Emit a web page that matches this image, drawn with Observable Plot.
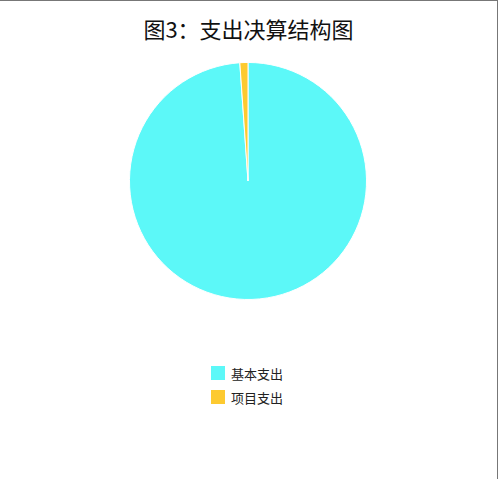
<!DOCTYPE html>
<html>
<head>
<meta charset="utf-8">
<script src="https://cdn.jsdelivr.net/npm/d3@7"></script>
<script src="https://cdn.jsdelivr.net/npm/@observablehq/plot@0.6"></script>
<style>
  html, body { margin: 0; padding: 0; background: #fff; }
  #wrap { position: relative; width: 497px; height: 479px; border-top: 1px solid #777; border-right: 1px solid #777; box-sizing: content-box; font-family: "Noto Sans CJK SC", "Noto Sans", sans-serif; }
  #title { position: absolute; left: 0; top: 0; width: 497px; height: 58px; line-height: 55px; text-align: center; font-size: 22px; color: #111; }
  #chart { position: absolute; left: 0; top: 49px; }
  #legend { position: absolute; left: 211px; top: 360px; font-size: 13px; color: #222; }
  .item { display: flex; align-items: center; height: 24px; }
  .sw { width: 14px; height: 14px; margin-right: 6px; }
</style>
</head>
<body>
<div id="wrap">
  <div id="title"></div>
  <div id="chart"></div>
  <div id="legend"></div>
</div>
<script>
const titleText = "图3：支出决算结构图";
const categories = ["基本支出", "项目支出"];
const values = [98.9, 1.1];
const colors = ["#5cf8f8", "#fdca30"];

const data = categories.map((c, i) => ({category: c, value: values[i]}));

document.getElementById("title").textContent = titleText;

const pieMark = (index, scales, vals, dimensions, context) => {
  const cx = scales.x(0), cy = scales.y(0);
  const r = scales.x(1) - scales.x(0);
  const pie = d3.pie().sort(null).value(d => d.value)(data);
  const arc = d3.arc().innerRadius(0).outerRadius(r);
  const g = d3.create("svg:g").attr("transform", `translate(${cx},${cy})`);
  g.selectAll("path").data(pie).join("path")
    .attr("d", arc)
    .attr("fill", d => scales.color(d.data.category))
    .attr("stroke", "#fff")
    .attr("stroke-width", 1)
    .attr("stroke-linejoin", "round");
  return g.node();
};

const svgHeight = 280;
const plot = Plot.plot({
  width: 499,
  height: svgHeight,
  marginLeft: 130,
  marginRight: 499 - 368,
  marginTop: 12.5,
  marginBottom: svgHeight - 12.5 - 238,
  x: {domain: [-1, 1], axis: null},
  y: {domain: [-1, 1], axis: null},
  color: {domain: categories, range: colors},
  style: {background: "transparent"},
  marks: [pieMark]
});
document.getElementById("chart").appendChild(plot);

const legend = document.getElementById("legend");
categories.forEach((c, i) => {
  const item = document.createElement("div");
  item.className = "item";
  const sw = document.createElement("div");
  sw.className = "sw";
  sw.style.background = colors[i];
  const t = document.createElement("span");
  t.textContent = c;
  item.appendChild(sw);
  item.appendChild(t);
  legend.appendChild(item);
});
</script>
</body>
</html>
